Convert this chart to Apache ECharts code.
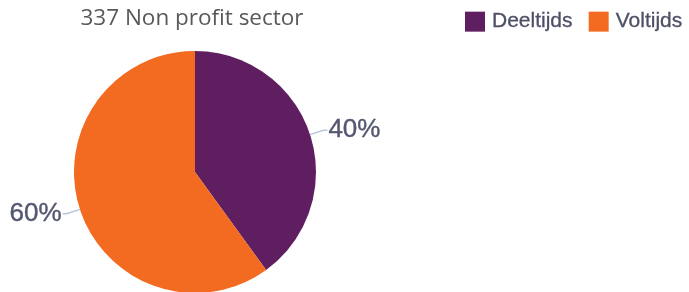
<!DOCTYPE html>
<html><head><meta charset="utf-8">
<script src="https://cdn.jsdelivr.net/npm/echarts@6/dist/echarts.min.js"></script>
<style>html,body{margin:0;padding:0;background:#fff}#c{width:689px;height:292px}</style>
</head><body><div id="c"></div>
<script>
const title = "337 Non profit sector";
const categories = ["Deeltijds", "Voltijds"];
const values = [40, 60];
const colors = ["#5f1e60", "#f26b21"];
const chart = echarts.init(document.getElementById('c'), null, {renderer:'canvas'});
chart.setOption({
  animation: false,
  title: {text: title, left: 187, top: 2, textAlign: 'center',
    textStyle: {fontFamily: "'Open Sans', sans-serif", fontWeight: 'normal', fontSize: 22.5, color: '#595959'}},
  legend: {left: 460, top: 6, itemWidth: 20, itemHeight: 20, itemGap: 16, icon: 'rect',
    textStyle: {fontFamily: "'Liberation Sans', Arial, sans-serif", fontSize: 21, color: '#4d4f66', padding:[0,0,0,2],
      textBorderColor: '#4d4f66', textBorderWidth: 0.3},
    data: categories},
  series: [{
    type: 'pie', center: [195, 172], radius: 121, startAngle: 90, clockwise: true,
    data: categories.map((n,i)=>({name:n, value:values[i], itemStyle:{color:colors[i]}})),
    label: {formatter: '{d}%', fontFamily: "'Liberation Sans', Arial, sans-serif", fontSize: 26, color: '#535770',
      textBorderColor: '#535770', textBorderWidth: 0.4, distanceToLabelLine: 1, overflow: 'none'},
    labelLine: {length: 14, length2: 4, lineStyle: {color: '#b8c6dc', width: 1.5}},
    emphasis: {disabled: true}
  }]
});
</script></body></html>
